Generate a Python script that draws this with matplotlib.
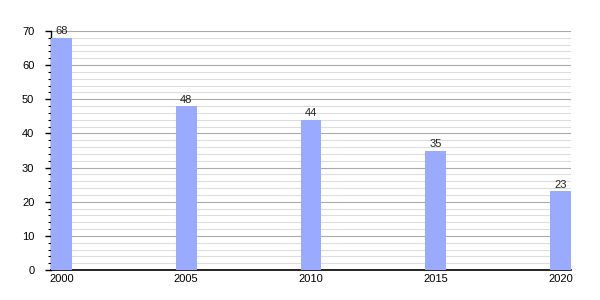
import matplotlib
matplotlib.use("Agg")
import matplotlib.pyplot as plt
from matplotlib.ticker import MultipleLocator

plt.rcParams["font.family"] = ["Liberation Sans", "DejaVu Sans"]

years = [2000, 2005, 2010, 2015, 2020]
values = [68, 48, 44, 35, 23]
xtick_labels = ["2000", "2005", "2010", "2015", "2020"]

fig = plt.figure(figsize=(6, 3), dpi=100)
ax = fig.add_axes([51/600, 30/300, 520/600, 239/300])

width = 0.84
ax.bar(years, values, width=width, color="#99aaff", zorder=3)
for x, v in zip(years, values):
    ax.text(x, v + 0.4, str(v), ha="center", va="bottom", fontsize=8, color="#222222", zorder=4)

ax.set_xlim(years[0] - width/2, years[-1] + width/2)
ax.set_ylim(0, 70)
ax.yaxis.set_major_locator(MultipleLocator(10))
ax.yaxis.set_minor_locator(MultipleLocator(2))
ax.set_xticks(years)
ax.set_xticklabels(xtick_labels)
ax.grid(axis="y", which="major", color="#aaaaaa", linewidth=0.8, zorder=1)
ax.grid(axis="y", which="minor", color="#dddddd", linewidth=0.8, zorder=1)
ax.set_axisbelow(True)

for s in ["top", "right"]:
    ax.spines[s].set_visible(False)
ax.spines["left"].set_linewidth(1.0)
ax.spines["bottom"].set_linewidth(1.2)
ax.tick_params(axis="y", which="major", length=4, width=1, labelsize=8, pad=8)
ax.tick_params(axis="y", which="minor", length=2, width=0.8)
ax.tick_params(axis="x", length=0, labelsize=8, pad=3)

fig.savefig("out.png", dpi=100)
